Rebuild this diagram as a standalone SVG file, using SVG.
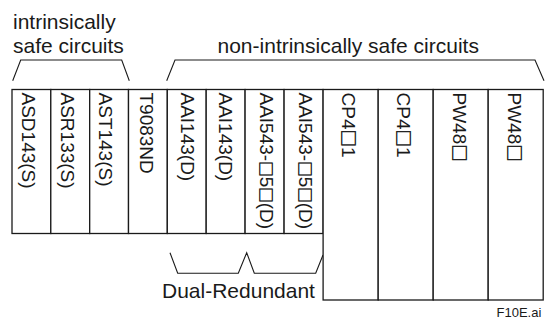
<svg xmlns="http://www.w3.org/2000/svg" width="548" height="320" viewBox="0 0 548 320">
  <style>
    .frame { fill: #ffffff; stroke: #1a1a1a; stroke-width: 1.3; }
    .br { fill: none; stroke: #1a1a1a; stroke-width: 1.1; stroke-linejoin: miter; }
    .lbl { font-family: "Liberation Sans", Arial, sans-serif; font-size: 21px; fill: #1a1a1a; }
    .mod { font-family: "Liberation Sans", Arial, sans-serif; font-size: 19px; fill: #1a1a1a; }
    .box { font-family: "Noto Sans CJK JP", "DejaVu Sans", sans-serif; font-size: 17.5px; fill: #1a1a1a; stroke: #1a1a1a; stroke-width: 0.5; }
    .box.tight { font-size: 15.5px; }
    .fig { font-family: "Liberation Sans", Arial, sans-serif; font-size: 13px; fill: #1a1a1a; }
  </style>

  <!-- group captions -->
  <g id="caption-intrinsic">
    <text class="lbl" x="13" y="28.5">intrinsically</text>
    <text class="lbl" x="13" y="52.5">safe circuits</text>
  </g>
  <g id="caption-non-intrinsic">
    <text class="lbl" x="217.5" y="52.5">non-intrinsically safe circuits</text>
  </g>

  <!-- brackets -->
  <g id="connectors">
    <polyline class="br" points="12.7,80.7 20.7,60 121.7,60 129.3,80.7"/>
    <polyline class="br" points="166.7,80.7 175,60 535,60 544,80.7"/>
    <polyline class="br" points="170,252.7 177.7,273.3 238.3,273.3 246.7,252.7 254.3,273.3 315.7,273.3 323,255"/>
  </g>

  <!-- I/O and power modules -->
  <g id="asd143">
    <rect class="frame" x="12" y="89.5" width="38.8" height="144"/>
    <text class="mod" transform="translate(22,92.5) rotate(90)">ASD143(S)</text>
  </g>
  <g id="asr133">
    <rect class="frame" x="50.8" y="89.5" width="38.9" height="144"/>
    <text class="mod" transform="translate(60.8,92.5) rotate(90)">ASR133(S)</text>
  </g>
  <g id="ast143">
    <rect class="frame" x="89.7" y="89.5" width="38.8" height="144"/>
    <text class="mod" transform="translate(99.2,92.5) rotate(90)">AST143(S)</text>
  </g>
  <g id="t9083nd">
    <rect class="frame" x="128.5" y="89.5" width="38.8" height="144"/>
    <text class="mod" transform="translate(140.3,92.5) rotate(90)">T9083ND</text>
  </g>
  <g id="aai143-a">
    <rect class="frame" x="167.3" y="89.5" width="38.9" height="144"/>
    <text class="mod" transform="translate(180.5,92.5) rotate(90)">AAI143(D)</text>
  </g>
  <g id="aai143-b">
    <rect class="frame" x="206.2" y="89.5" width="38.9" height="144"/>
    <text class="mod" transform="translate(219,92.5) rotate(90)">AAI143(D)</text>
  </g>
  <g id="aai543-a">
    <rect class="frame" x="245.1" y="89.5" width="39" height="144"/>
    <text class="mod" transform="translate(260,92.5) rotate(90)">AAI543-<tspan class="box tight">□</tspan>5<tspan class="box tight">□</tspan>(D)</text>
  </g>
  <g id="aai543-b">
    <rect class="frame" x="284.1" y="89.5" width="39" height="144"/>
    <text class="mod" transform="translate(299.2,92.5) rotate(90)">AAI543-<tspan class="box tight">□</tspan>5<tspan class="box tight">□</tspan>(D)</text>
  </g>
  <g id="cp4-a">
    <rect class="frame" x="323.1" y="89.5" width="55.1" height="210.5"/>
    <text class="mod" transform="translate(342,92.5) rotate(90)">CP4<tspan class="box">□</tspan>1</text>
  </g>
  <g id="cp4-b">
    <rect class="frame" x="378.2" y="89.5" width="55" height="210.5"/>
    <text class="mod" transform="translate(397,92.5) rotate(90)">CP4<tspan class="box">□</tspan>1</text>
  </g>
  <g id="pw48-a">
    <rect class="frame" x="433.2" y="89.5" width="55" height="210.5"/>
    <text class="mod" transform="translate(453,92.5) rotate(90)">PW48<tspan class="box">□</tspan></text>
  </g>
  <g id="pw48-b">
    <rect class="frame" x="488.2" y="89.5" width="55" height="210.5"/>
    <text class="mod" transform="translate(507.8,92.5) rotate(90)">PW48<tspan class="box">□</tspan></text>
  </g>

  <g id="caption-dual">
    <text class="lbl" x="162" y="297.5">Dual-Redundant</text>
  </g>

  <text class="fig" x="496.5" y="317">F10E.ai</text>
</svg>
